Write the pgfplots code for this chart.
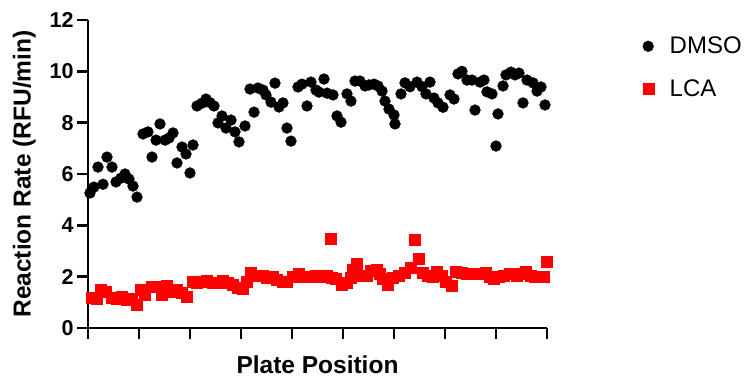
\documentclass[border=0pt]{standalone}
\usepackage{fontspec}
\setmainfont{Liberation Sans}
\usepackage{pgfplots}
\pgfplotsset{compat=1.18}
\begin{document}
\begin{tikzpicture}[x=1pt,y=1pt]
\path[use as bounding box] (0,0) rectangle (746,377);
\begin{axis}[
 scale only axis, width=459pt, height=308pt,
 at={(88pt,49pt)}, anchor=south west,
 xmin=0, xmax=108, ymin=0, ymax=12,
 xtick={0,12,...,108}, xticklabels={},
 ytick={0,2,...,12},
 axis x line*=bottom, axis y line*=left,
 axis line style={line width=2.8pt, -},
 tick style={line width=2.8pt, black},
 tick align=outside, major tick length=11pt,
 /pgf/number format/assume math mode=true,
 yticklabel style={font=\fontsize{21.5}{24}\selectfont\bfseries},
 xlabel={Plate Position}, ylabel={Reaction Rate (RFU/min)},
 label style={font=\fontsize{24.5}{28}\selectfont\bfseries},
 xlabel shift=6pt, ylabel shift=7pt,
 clip=false,
 legend cell align=left,
 legend style={draw=none, fill=none, at={(axis description cs:1.2015,0.958)}, anchor=north west,
   font=\fontsize{24}{27}\selectfont, row sep=20pt,
   /tikz/every odd column/.append style={column sep=14pt}},
]
\addplot[only marks, mark=*, mark size=5.5pt, mark options={fill=black, draw=black, line width=0.2pt}] coordinates {
(0.47,5.26)(1.41,5.49)(2.35,6.27)(3.53,5.6)(4.47,6.66)(5.65,6.27)(6.59,5.69)(7.76,5.84)(8.71,6.0)(9.65,5.8)
(10.59,5.53)(11.53,5.1)(12.94,7.56)(14.12,7.64)(15.06,6.66)(16.0,7.32)(16.94,7.95)(18.12,7.32)(19.06,7.4)(20.0,7.6)
(20.94,6.43)(22.12,7.05)(23.06,6.78)(24.0,6.04)(24.71,7.13)(25.65,8.65)(26.82,8.76)(27.76,8.92)(28.71,8.78)(29.65,8.65)
(30.59,7.99)(31.53,8.26)(32.47,7.79)(33.65,8.1)(34.59,7.64)(35.53,7.25)(36.94,7.87)(38.12,9.31)(39.06,8.41)(40.0,9.35)
(41.18,9.27)(41.88,9.08)(43.06,8.8)(44.0,9.54)(44.94,8.61)(45.88,8.77)(46.82,7.79)(47.76,7.28)(49.41,9.39)(50.35,9.5)
(51.53,8.65)(52.47,9.58)(53.65,9.27)(54.35,9.19)(55.53,9.7)(56.24,9.15)(57.65,9.08)(58.59,8.26)(59.53,8.02)(60.94,9.12)
(61.88,8.84)(62.82,9.62)(64.0,9.62)(65.18,9.43)(66.12,9.47)(67.29,9.5)(68.24,9.43)(69.18,9.23)(69.88,8.84)(70.82,8.53)
(72.0,8.3)(72.24,7.95)(73.65,9.12)(74.59,9.55)(75.76,9.4)(77.41,9.58)(78.59,9.4)(79.53,9.12)(80.47,9.58)(81.41,8.96)
(82.35,8.77)(83.53,8.6)(85.18,9.08)(86.12,8.92)(87.06,9.9)(88.0,10.0)(89.18,9.66)(90.35,9.66)(91.06,8.49)(92.24,9.58)
(93.18,9.66)(93.88,9.2)(95.06,9.12)(96.0,7.09)(96.47,8.34)(97.65,9.43)(98.35,9.86)(99.53,9.97)(100.47,9.86)(101.41,9.93)
(102.35,8.77)(103.29,9.66)(104.71,9.55)(105.65,9.23)(106.59,9.39)(107.53,8.69)
};
\addlegendentry{DMSO}
\addplot[only marks, mark=square*, mark size=5.5pt, color=red, mark options={fill=red, draw=red, line width=0.2pt}] coordinates {
(0.94,1.17)(2.12,1.13)(3.06,1.48)(4.24,1.4)(5.65,1.17)(6.82,1.13)(8.0,1.21)(9.18,1.09)(10.35,1.13)(11.53,0.93)
(12.47,1.48)(13.41,1.32)(15.06,1.6)(16.24,1.6)(17.41,1.32)(18.59,1.64)(19.76,1.4)(20.94,1.48)(22.12,1.36)(23.29,1.21)
(24.71,1.79)(25.65,1.75)(27.06,1.79)(28.0,1.83)(29.41,1.75)(30.35,1.75)(31.76,1.83)(32.94,1.75)(34.12,1.69)(35.29,1.56)
(36.47,1.52)(37.41,1.79)(38.35,2.14)(39.76,2.03)(41.18,2.03)(42.12,1.95)(43.53,1.99)(44.47,1.87)(45.88,1.79)(46.82,1.79)
(48.24,1.99)(49.65,2.1)(51.06,1.99)(52.24,1.99)(53.65,2.06)(54.82,1.99)(56.24,2.06)(57.18,3.5)(57.41,1.95)(58.35,1.91)
(59.76,1.71)(60.94,1.75)(61.88,1.95)(62.35,2.26)(63.29,2.49)(64.47,2.03)(65.65,2.06)(66.59,2.22)(68.0,2.26)(68.71,2.1)
(69.41,1.91)(70.59,1.71)(71.76,1.95)(73.18,2.06)(74.59,2.14)(76.0,2.34)(76.94,3.43)(77.88,2.69)(78.82,2.14)(80.0,2.06)
(81.18,1.99)(82.12,2.18)(83.29,2.06)(84.24,1.79)(85.65,1.67)(86.59,2.18)(88.0,2.14)(89.18,2.1)(90.59,2.1)(92.0,2.1)
(93.65,2.14)(94.59,1.99)(95.53,1.91)(96.71,1.99)(97.88,2.06)(99.29,2.1)(100.94,2.06)(102.12,2.1)(103.06,2.18)(104.24,2.06)
(105.18,1.99)(106.12,1.99)(107.29,1.99)(107.8,2.57)
};
\addlegendentry{LCA}
\end{axis}
\end{tikzpicture}
\end{document}
